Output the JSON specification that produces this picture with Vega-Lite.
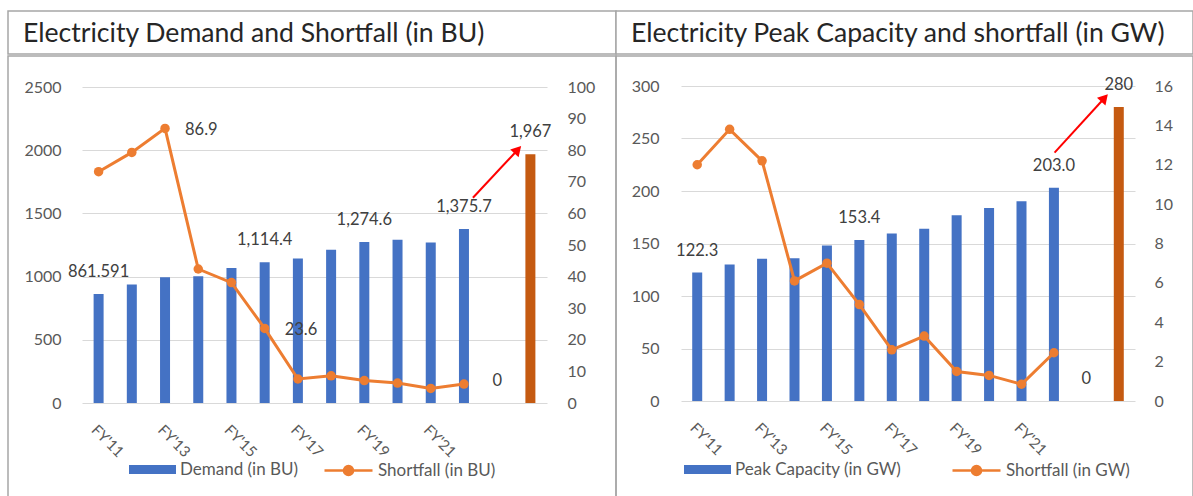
{
  "$schema": "https://vega.github.io/schema/vega-lite/v6.json",
  "padding": {"left": 7, "top": 10, "right": 0, "bottom": 0},
  "background": "white",
  "config": {
    "font": "Lato",
    "view": {"stroke": "#A6A6A6", "strokeWidth": 1.5},
    "axis": {"labelFont": "Lato", "labelFontSize": 16, "labelColor": "#595959", "ticks": false, "domain": false, "gridColor": "#D9D9D9", "gridWidth": 1},
    "legend": {"labelFont": "Lato", "labelFontSize": 17, "labelColor": "#595959", "padding": 0, "labelLimit": 400},
    "text": {"font": "Lato"}
  },
  "datasets": {
    "bu": [
      {"i": 0, "year": "FY'11", "demand": 861.591, "shortfall": 73.2, "kind": "actual", "dlabel": "861.591"},
      {"i": 1, "year": "FY'12", "demand": 937.2, "shortfall": 79.3, "kind": "actual"},
      {"i": 2, "year": "FY'13", "demand": 995.6, "shortfall": 86.9, "kind": "actual", "slabel": "86.9"},
      {"i": 3, "year": "FY'14", "demand": 1002.3, "shortfall": 42.4, "kind": "actual"},
      {"i": 4, "year": "FY'15", "demand": 1068.9, "shortfall": 38.1, "kind": "actual"},
      {"i": 5, "year": "FY'16", "demand": 1114.4, "shortfall": 23.6, "kind": "actual", "dlabel": "1,114.4", "slabel": "23.6"},
      {"i": 6, "year": "FY'17", "demand": 1142.9, "shortfall": 7.6, "kind": "actual"},
      {"i": 7, "year": "FY'18", "demand": 1213.3, "shortfall": 8.6, "kind": "actual"},
      {"i": 8, "year": "FY'19", "demand": 1274.6, "shortfall": 7.1, "kind": "actual", "dlabel": "1,274.6"},
      {"i": 9, "year": "FY'20", "demand": 1291.0, "shortfall": 6.3, "kind": "actual"},
      {"i": 10, "year": "FY'21", "demand": 1270.0, "shortfall": 4.6, "kind": "actual"},
      {"i": 11, "year": "FY'22", "demand": 1375.7, "shortfall": 6.0, "kind": "actual", "dlabel": "1,375.7"},
      {"i": 12, "year": "", "demand": 0, "kind": "blank", "dlabel": "0"},
      {"i": 13, "year": "Target", "demand": 1967, "kind": "target", "dlabel": "1,967"}
    ],
    "gw": [
      {"i": 0, "year": "FY'11", "capacity": 122.3, "shortfall": 12.0, "kind": "actual", "dlabel": "122.3"},
      {"i": 1, "year": "FY'12", "capacity": 130.0, "shortfall": 13.8, "kind": "actual"},
      {"i": 2, "year": "FY'13", "capacity": 135.5, "shortfall": 12.2, "kind": "actual"},
      {"i": 3, "year": "FY'14", "capacity": 135.9, "shortfall": 6.1, "kind": "actual"},
      {"i": 4, "year": "FY'15", "capacity": 148.2, "shortfall": 7.0, "kind": "actual"},
      {"i": 5, "year": "FY'16", "capacity": 153.4, "shortfall": 4.9, "kind": "actual", "dlabel": "153.4"},
      {"i": 6, "year": "FY'17", "capacity": 159.5, "shortfall": 2.6, "kind": "actual"},
      {"i": 7, "year": "FY'18", "capacity": 164.1, "shortfall": 3.3, "kind": "actual"},
      {"i": 8, "year": "FY'19", "capacity": 177.0, "shortfall": 1.5, "kind": "actual"},
      {"i": 9, "year": "FY'20", "capacity": 183.8, "shortfall": 1.3, "kind": "actual"},
      {"i": 10, "year": "FY'21", "capacity": 190.2, "shortfall": 0.85, "kind": "actual"},
      {"i": 11, "year": "FY'22", "capacity": 203.0, "shortfall": 2.45, "kind": "actual", "dlabel": "203.0"},
      {"i": 12, "year": "", "capacity": 0, "kind": "blank", "dlabel": "0"},
      {"i": 13, "year": "Target", "capacity": 280, "kind": "target", "dlabel": "280"}
    ],
    "arrowBU": [{"i": 11.27, "demand": 1624, "i2": 12.62, "demand2": 2004}],
    "headBU": [{"i": 12.62, "demand": 2004}],
    "arrowGW": [{"i": 11.02, "capacity": 236.5, "i2": 12.56, "capacity2": 288.6}],
    "headGW": [{"i": 12.56, "capacity": 288.6}]
  },
  "spacing": 0,
  "resolve": {"scale": {"x": "independent", "y": "independent", "fill": "independent", "stroke": "independent"}, "axis": {"x": "independent", "y": "independent"}, "legend": {"fill": "independent", "stroke": "independent"}},
  "vconcat": [
    {
      "spacing": 0,
      "bounds": "flush",
      "hconcat": [
        {
          "width": 608, "height": 43,
          "data": {"values": [{}]},
          "layer": [
            {"mark": {"type": "rect", "fill": "white", "stroke": "#A6A6A6", "strokeWidth": 1.5}},
            {"mark": {"type": "text", "text": "Electricity Demand and Shortfall (in BU)", "align": "left", "baseline": "middle", "dx": -289, "dy": 1, "fontSize": 26.6, "color": "#262626"}}
          ]
        },
        {
          "width": 577, "height": 43,
          "data": {"values": [{}]},
          "layer": [
            {"mark": {"type": "rect", "fill": "white", "stroke": "#A6A6A6", "strokeWidth": 1.5}},
            {"mark": {"type": "text", "text": "Electricity Peak Capacity and shortfall (in GW)", "align": "left", "baseline": "middle", "dx": -273.5, "dy": 1, "fontSize": 26.6, "color": "#262626"}}
          ]
        }
      ]
    },
    {
      "spacing": 0,
      "bounds": "flush",
      "resolve": {"scale": {"x": "independent", "y": "independent", "fill": "independent", "stroke": "independent"}, "axis": {"x": "independent", "y": "independent"}, "legend": {"fill": "independent", "stroke": "independent"}},
      "hconcat": [
        {
          "width": 608, "height": 450,
          "data": {"name": "bu"},
          "resolve": {"scale": {"y": "independent"}},
          "layer": [
            {
              "encoding": {
                "x": {"field": "i", "type": "quantitative", "scale": {"domain": [-0.5, 13.5], "range": [74, 539], "nice": false, "zero": false, "padding": 0},
                  "axis": {"orient": "bottom", "offset": -103, "values": [0, 2, 4, 6, 8, 10], "labelExpr": "'FY\\'' + (11 + datum.value)", "labelAngle": 45, "labelAlign": "left", "labelBaseline": "top", "labelPadding": 19, "labelFontSize": 15, "grid": false, "title": null}},
                "y": {"field": "demand", "type": "quantitative", "stack": null, "scale": {"domain": [0, 2500], "range": [347, 31], "nice": false, "zero": true},
                  "axis": {"orient": "left", "offset": -74, "values": [0, 500, 1000, 1500, 2000, 2500], "format": "d", "grid": true, "labelPadding": 21, "title": null}}
              },
              "layer": [
                {
                  "transform": [{"filter": "datum.kind != 'target'"}],
                  "mark": {"type": "bar", "width": 10, "orient": "vertical"},
                  "encoding": {
                    "fill": {"datum": "Demand (in BU)", "scale": {"range": ["#4472C4"]},
                      "legend": {"orient": "none", "legendX": 121, "legendY": 390, "title": null, "symbolType": "M-1,-0.19H1V0.19H-1Z", "symbolSize": 2209, "symbolStrokeWidth": 0, "labelOffset": 4}}
                  }
                },
                {
                  "transform": [{"filter": "datum.kind == 'target'"}],
                  "mark": {"type": "bar", "width": 10, "orient": "vertical", "color": "#C55A11"}
                },
                {
                  "transform": [{"filter": "isValid(datum.dlabel)"}],
                  "mark": {"type": "text", "dy": -22, "baseline": "middle", "align": "center", "fontSize": 16.5, "color": "#404040"},
                  "encoding": {"text": {"field": "dlabel"}}
                },
                {
                  "data": {"name": "arrowBU"},
                  "mark": {"type": "rule", "color": "#FF0000", "strokeWidth": 2},
                  "encoding": {"x2": {"field": "i2"}, "y2": {"field": "demand2"}}
                },
                {
                  "data": {"name": "headBU"},
                  "mark": {"type": "point", "shape": "triangle-up", "filled": true, "color": "#FF0000", "opacity": 1, "size": 130, "angle": 43}
                }
              ]
            },
            {
              "encoding": {
                "x": {"field": "i", "type": "quantitative", "scale": {"domain": [-0.5, 13.5], "range": [74, 539], "nice": false, "zero": false, "padding": 0},
                  "axis": {"orient": "bottom", "offset": -103, "values": [0, 2, 4, 6, 8, 10], "labelExpr": "'FY\\'' + (11 + datum.value)", "labelAngle": 45, "labelAlign": "left", "labelBaseline": "top", "labelPadding": 19, "labelFontSize": 15, "grid": false, "title": null}},
                "y": {"field": "shortfall", "type": "quantitative", "scale": {"domain": [0, 100], "range": [347, 31], "nice": false, "zero": true},
                  "axis": {"orient": "right", "offset": -69, "values": [0, 10, 20, 30, 40, 50, 60, 70, 80, 90, 100], "grid": false, "labelPadding": 20, "title": null}}
              },
              "transform": [{"filter": "isValid(datum.shortfall)"}],
              "layer": [
                {
                  "mark": {"type": "line", "strokeWidth": 3},
                  "encoding": {
                    "stroke": {"datum": "Shortfall (in BU)", "scale": {"range": ["#ED7D31"]},
                      "legend": {"orient": "none", "legendX": 315, "legendY": 389, "title": null, "symbolType": "M-1,0H1M0.19,0A0.19,0.19 0 1,1 -0.19,0A0.19,0.19 0 1,1 0.19,0", "symbolSize": 2304, "symbolStrokeWidth": 2.5, "symbolFillColor": "#ED7D31", "labelOffset": 4}}
                  }
                },
                {
                  "mark": {"type": "point", "filled": true, "size": 90, "color": "#ED7D31", "opacity": 1}
                },
                {
                  "transform": [{"filter": "isValid(datum.slabel)"}],
                  "mark": {"type": "text", "dx": 20, "dy": 2, "baseline": "middle", "align": "left", "fontSize": 16.5, "color": "#404040"},
                  "encoding": {"text": {"field": "slabel"}}
                }
              ]
            }
          ]
        },
        {
          "width": 577, "height": 450,
          "data": {"name": "gw"},
          "resolve": {"scale": {"y": "independent"}},
          "layer": [
            {
              "encoding": {
                "x": {"field": "i", "type": "quantitative", "scale": {"domain": [-0.5, 13.5], "range": [65, 519], "nice": false, "zero": false, "padding": 0},
                  "axis": {"orient": "bottom", "offset": -105, "values": [0, 2, 4, 6, 8, 10], "labelExpr": "'FY\\'' + (11 + datum.value)", "labelAngle": 45, "labelAlign": "left", "labelBaseline": "top", "labelPadding": 19, "labelFontSize": 15, "grid": false, "title": null}},
                "y": {"field": "capacity", "type": "quantitative", "stack": null, "scale": {"domain": [0, 300], "range": [345, 30], "nice": false, "zero": true},
                  "axis": {"orient": "left", "offset": -65, "values": [0, 50, 100, 150, 200, 250, 300], "format": "d", "grid": true, "labelPadding": 22, "title": null}}
              },
              "layer": [
                {
                  "transform": [{"filter": "datum.kind != 'target'"}],
                  "mark": {"type": "bar", "width": 10, "orient": "vertical"},
                  "encoding": {
                    "fill": {"datum": "Peak Capacity (in GW)", "scale": {"range": ["#4472C4"]},
                      "legend": {"orient": "none", "legendX": 68, "legendY": 390, "title": null, "symbolType": "M-1,-0.19H1V0.19H-1Z", "symbolSize": 2209, "symbolStrokeWidth": 0, "labelOffset": 4}}
                  }
                },
                {
                  "transform": [{"filter": "datum.kind == 'target'"}],
                  "mark": {"type": "bar", "width": 10, "orient": "vertical", "color": "#C55A11"}
                },
                {
                  "transform": [{"filter": "isValid(datum.dlabel)"}],
                  "mark": {"type": "text", "dy": -22, "baseline": "middle", "align": "center", "fontSize": 16.5, "color": "#404040"},
                  "encoding": {"text": {"field": "dlabel"}}
                },
                {
                  "data": {"name": "arrowGW"},
                  "mark": {"type": "rule", "color": "#FF0000", "strokeWidth": 2},
                  "encoding": {"x2": {"field": "i2"}, "y2": {"field": "capacity2"}}
                },
                {
                  "data": {"name": "headGW"},
                  "mark": {"type": "point", "shape": "triangle-up", "filled": true, "color": "#FF0000", "opacity": 1, "size": 130, "angle": 42}
                }
              ]
            },
            {
              "encoding": {
                "x": {"field": "i", "type": "quantitative", "scale": {"domain": [-0.5, 13.5], "range": [65, 519], "nice": false, "zero": false, "padding": 0},
                  "axis": {"orient": "bottom", "offset": -105, "values": [0, 2, 4, 6, 8, 10], "labelExpr": "'FY\\'' + (11 + datum.value)", "labelAngle": 45, "labelAlign": "left", "labelBaseline": "top", "labelPadding": 19, "labelFontSize": 15, "grid": false, "title": null}},
                "y": {"field": "shortfall", "type": "quantitative", "scale": {"domain": [0, 16], "range": [345, 30], "nice": false, "zero": true},
                  "axis": {"orient": "right", "offset": -58, "values": [0, 2, 4, 6, 8, 10, 12, 14, 16], "grid": false, "labelPadding": 19, "title": null}}
              },
              "transform": [{"filter": "isValid(datum.shortfall)"}],
              "layer": [
                {
                  "mark": {"type": "line", "strokeWidth": 3},
                  "encoding": {
                    "stroke": {"datum": "Shortfall (in GW)", "scale": {"range": ["#ED7D31"]},
                      "legend": {"orient": "none", "legendX": 335, "legendY": 389, "title": null, "symbolType": "M-1,0H1M0.19,0A0.19,0.19 0 1,1 -0.19,0A0.19,0.19 0 1,1 0.19,0", "symbolSize": 2304, "symbolStrokeWidth": 2.5, "symbolFillColor": "#ED7D31", "labelOffset": 4}}
                  }
                },
                {
                  "mark": {"type": "point", "filled": true, "size": 90, "color": "#ED7D31", "opacity": 1}
                }
              ]
            }
          ]
        }
      ]
    }
  ]
}
